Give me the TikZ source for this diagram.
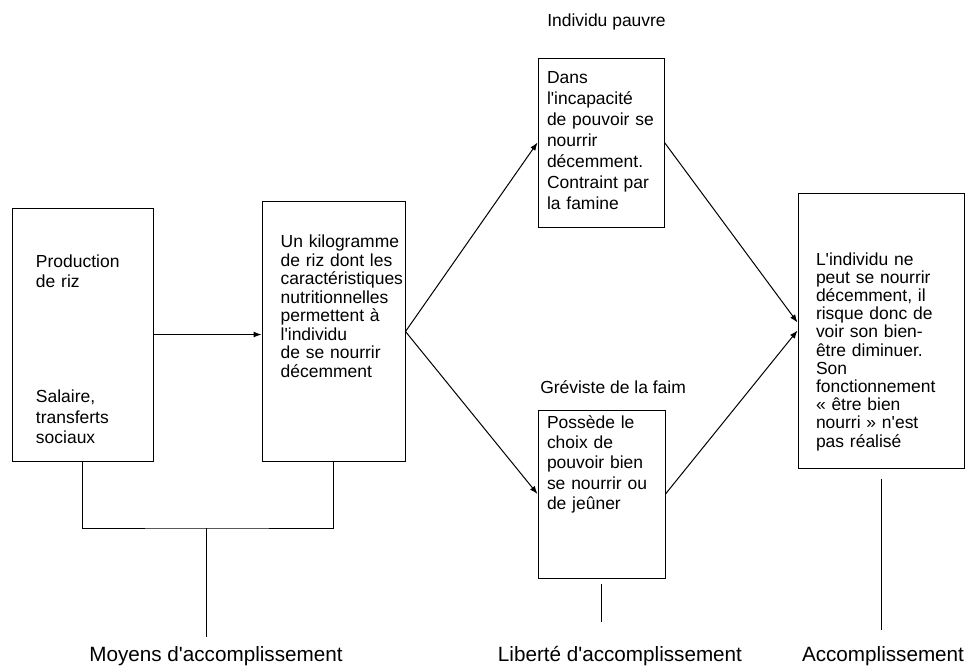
\documentclass[tikz,border=0pt]{standalone}
\usepackage{fontspec}
\setmainfont{Liberation Sans}[Ligatures=TeXOff]
\usetikzlibrary{arrows.meta}

\tikzset{
  boite/.style={draw, line width=0.75pt, align=left, inner ysep=0pt},
  titre/.style={font=\fontsize{13.1}{15}\selectfont, inner sep=0pt},
  legende/.style={font=\fontsize{15.5}{18}\selectfont, inner sep=0pt},
  fleche/.style={-{Latex[length=6pt,width=4.5pt]}, line width=0.75pt},
  trait/.style={line width=0.75pt},
}

\begin{document}
\begin{tikzpicture}[x=0.75pt, y=-0.75pt]
    \useasboundingbox (0,0) rectangle (965,668);

    % les cinq boites
    \node[boite, font=\fontsize{13.1}{15.4}\selectfont, inner xsep=18pt, text width=69.75pt,
          text height=44.25pt, text depth=145.5pt] (prod) at (82.5,334.5)
          {Production\\de riz\\[70.9pt]Salaire,\\transferts\\sociaux};
    \node[boite, font=\fontsize{13.1}{13.9}\selectfont, inner xsep=1pt, text width=105.25pt,
          text height=34.3pt, text depth=160pt] (riz) at (333.5,331.5)
          {\leftskip=13pt\relax Un kilogramme\\de riz dont les\\caractéristiques\\nutritionnelles\\permettent à\\l'individu\\de se nourrir\\décemment\par};
    \node[boite, font=\fontsize{13.1}{15.75}\selectfont, inner xsep=6.75pt, text width=81pt,
          text height=18.75pt, text depth=108pt] (pauvre) at (601,142.5)
          {Dans\\l'incapacité\\de pouvoir se\\nourrir\\décemment.\\Contraint par\\la famine};
    \node[boite, font=\fontsize{13.1}{15.3}\selectfont, inner xsep=6.75pt, text width=81.75pt,
          text height=13.5pt, text depth=112.5pt] (greve) at (601.5,494)
          {Possède le\\choix de\\pouvoir bien\\se nourrir ou\\de jeûner};
    \node[boite, font=\fontsize{13.1}{13.65}\selectfont, inner xsep=13.5pt, text width=97.5pt,
          text height=54pt, text depth=152.25pt] (accomp) at (881,330.5)
          {L'individu ne\\peut se nourrir\\décemment, il\\risque donc de\\voir son bien-\\être diminuer.\\Son\\fonctionnement\\« être bien\\nourri » n'est\\pas réalisé};

    % titres
    \node[titre, anchor=base west] (pauvretitre) at (547,26) {Individu pauvre};
    \node[titre, anchor=base west] (grevetitre) at (540,393) {Gréviste de la faim};

    \node[legende, anchor=base] (moytitre) at (216,661.7) {Moyens d'accomplissement};
    \node[legende, anchor=base] (libtitre) at (620,661.7) {Liberté d'accomplissement};
    \node[legende, anchor=base] (acctitre) at (883,661.7) {Accomplissement};

    % fleches
    \draw[fleche] (prod.east) -- (prod.east -| riz.west);
    \draw[fleche] (riz.east) -- (pauvre.west);
    \draw[fleche] (riz.east) -- (greve.west);
    \draw[fleche] (pauvre.east) -- ([yshift=6pt]accomp.west);
    \draw[fleche] (greve.east) -- (accomp.west);

    % accolade du bas
    \coordinate (moyjoint) at (206,528);
    \draw[trait] (prod.south) |- (moyjoint) -| (riz.south);
    \draw[trait, shorten >=7pt] (moyjoint) -- (moyjoint |- moytitre.north);
    \draw[trait, shorten <=3.75pt, shorten >=18.5pt] (greve.south) -- (greve.south |- libtitre.north);
    \draw[trait, shorten <=7.5pt, shorten >=12.5pt] (accomp.south) -- (accomp.south |- acctitre.north);
\end{tikzpicture}
\end{document}
